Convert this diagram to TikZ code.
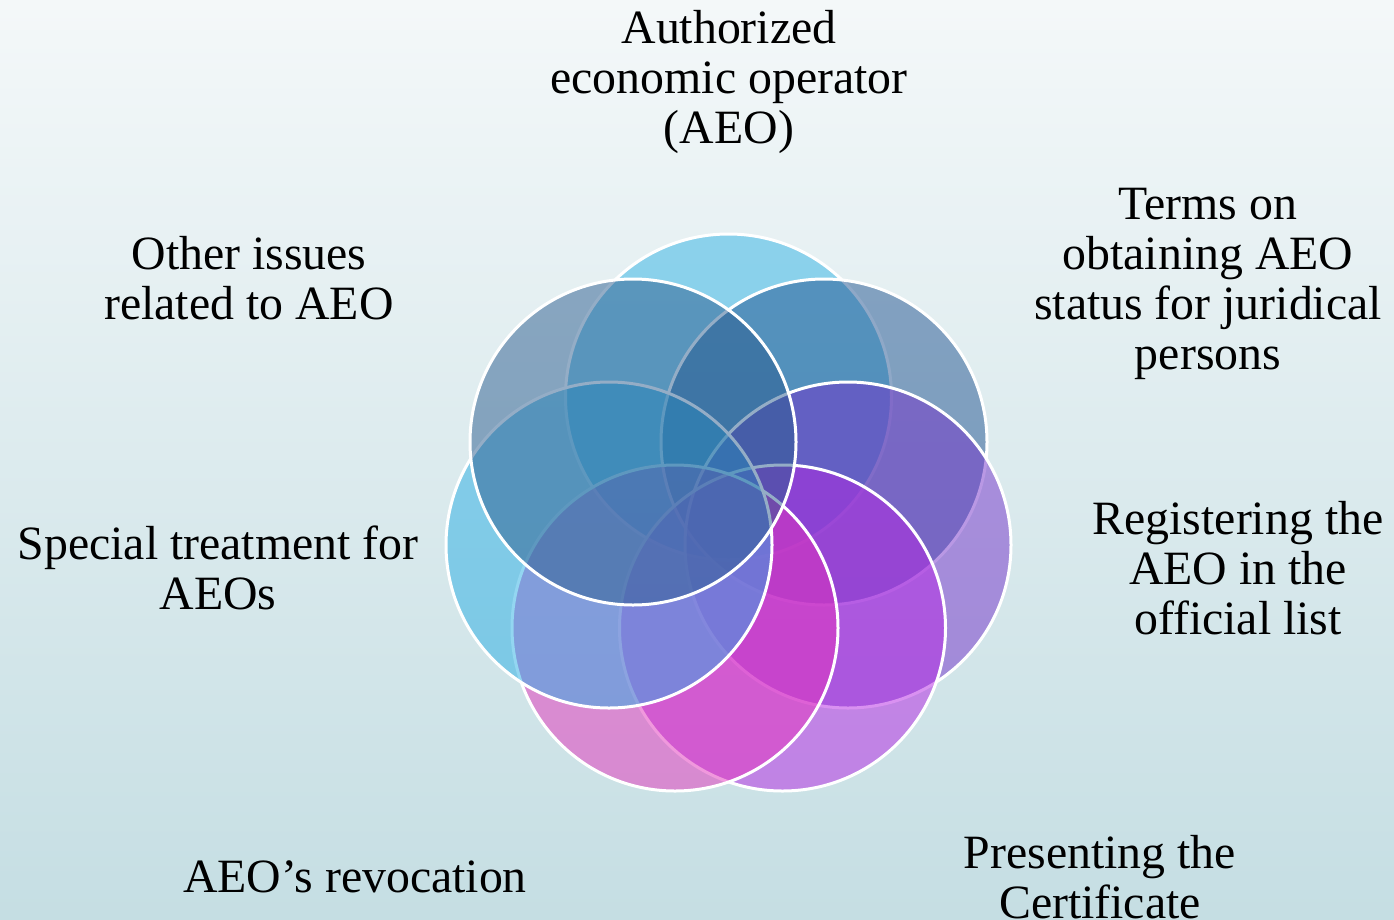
\documentclass[tikz,border=0pt]{standalone}
\usepackage{fontspec}
\setmainfont{Liberation Serif}
\definecolor{bgtop}{RGB}{244,248,249}
\definecolor{bgbot}{RGB}{197,222,227}
\definecolor{f1}{RGB}{48,179,229}
\definecolor{f2}{RGB}{32,83,144}
\definecolor{f3}{RGB}{116,50,202}
\definecolor{f4}{RGB}{181,37,228}
\definecolor{f5}{RGB}{227,51,188}
\definecolor{f6}{RGB}{41,174,228}
\definecolor{f7}{RGB}{43,92,143}
\begin{document}
\begin{tikzpicture}[x=1pt,y=-1pt,
  ringcirc/.style={circle, draw=white, line width=3pt, minimum size=326pt, inner sep=0pt, fill opacity=0.5, draw opacity=1},
  lbl/.style={align=center, font=\fontsize{47.8}{50}\selectfont, inner sep=0pt, anchor=base}]
\shade[top color=bgtop, bottom color=bgbot] (0,0) rectangle (1394,919);
\useasboundingbox (0,0) rectangle (1394,919);
\node[ringcirc, fill=f1] (c1) at (728.5,397) {};
\node[ringcirc, fill=f2] (c2) at (824,442) {};
\node[ringcirc, fill=f3] (c3) at (848,545) {};
\node[ringcirc, fill=f4] (c4) at (782.5,628) {};
\node[ringcirc, fill=f5] (c5) at (675,628) {};
\node[ringcirc, fill=f6] (c6) at (609,545) {};
\node[ringcirc, fill=f7] (c7) at (633,442) {};
\node[lbl] (t1) at (729,143) {Authorized\\economic operator\\(AEO)};
\node[lbl] (t2) at (1208,369) {Terms on\\obtaining AEO\\status for juridical\\persons};
\node[lbl] (t3) at (1238,634) {Registering the\\AEO in the\\official list};
\node[lbl] (t4) at (1100,918) {Presenting the\\Certificate};
\node[lbl] (t5) at (355,892) {AEO’s revocation};
\node[lbl] (t6) at (218,609) {Special treatment for\\AEOs};
\node[lbl] (t7) at (249,319) {Other issues\\related to AEO};
\end{tikzpicture}
\end{document}
